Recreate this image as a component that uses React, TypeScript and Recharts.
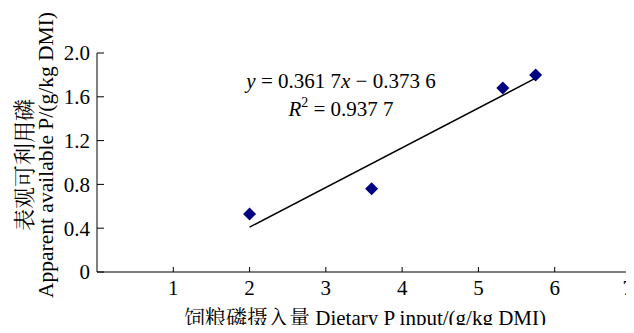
import { ComposedChart, Scatter, XAxis, YAxis } from 'recharts';

const observedX = [2.0, 3.6, 5.32, 5.75];
const observedY = [0.53, 0.76, 1.68, 1.8];
const trendX = [2.0, 5.75];
const trendY = [0.41, 1.77];
const xTicks = [1, 2, 3, 4, 5, 6, 7];
const yTicks = [0, 0.4, 0.8, 1.2, 1.6, 2.0];

const observed = observedX.map((x, i) => ({ x, y: observedY[i] }));
const trend = trendX.map((x, i) => ({ x, y: trendY[i] }));

const serif = "'Liberation Serif'";
const cjk = "'Noto Serif CJK SC'";

const Diamond = (props: any) => {
  const { cx, cy } = props;
  const r = 6.5;
  return (
    <polygon
      points={`${cx},${cy - r} ${cx + r},${cy} ${cx},${cy + r} ${cx - r},${cy}`}
      fill="#000080"
    />
  );
};

// last label sits at the right edge, keep it inside the page
const XTick = (props: any) => {
  const { x, y, payload } = props;
  const atEdge = x + 6 > 634;
  return (
    <text
      x={atEdge ? 633 : x}
      y={y}
      dy={13}
      textAnchor={atEdge ? 'end' : 'middle'}
      fill="#000"
      fontSize={21}
      fontFamily={serif}
    >
      {payload.value}
    </text>
  );
};

export default function App() {
  return (
    <div style={{ position: 'relative', width: 634, height: 333, margin: -8, background: '#fff', fontFamily: serif }}>
      <style>{'.recharts-surface{overflow:visible}'}</style>
      <ComposedChart width={634} height={333} margin={{ top: 53, right: 3, bottom: 0, left: 0 }}>
        <XAxis
          type="number"
          dataKey="x"
          domain={[0, 7]}
          ticks={xTicks}
          interval={0}
          height={61}
          stroke="#000"
          tickSize={-5}
          tickMargin={15}
          tick={<XTick />}
        />
        <YAxis
          type="number"
          dataKey="y"
          domain={[0, 2]}
          ticks={yTicks}
          interval={0}
          width={97}
          stroke="#000"
          tickSize={-7}
          tickMargin={14}
          tickFormatter={(v: number) => (v === 0 ? '0' : v.toFixed(1))}
          tick={{ fill: '#000', fontSize: 21, fontFamily: serif }}
        />
        <Scatter
          data={trend}
          line={{ stroke: '#000', strokeWidth: 1.5 }}
          shape={() => null}
          isAnimationActive={false}
        />
        <Scatter data={observed} shape={<Diamond />} isAnimationActive={false} />
      </ComposedChart>

      <div style={{ position: 'absolute', left: 241, top: 67, width: 200, textAlign: 'center', fontSize: 21, lineHeight: '28px', whiteSpace: 'nowrap' }}>
        <i>y</i> = 0.361 7<i>x</i> − 0.373 6
        <br />
        <i>R</i>
        <sup style={{ fontSize: 14, verticalAlign: 'top', lineHeight: '16px' }}>2</sup> = 0.937 7
      </div>

      <div style={{ position: 'absolute', left: 365, top: 317, transform: 'translate(-50%, -50%)', fontSize: 21, lineHeight: '20px', whiteSpace: 'nowrap' }}>
        <span style={{ fontFamily: cjk }}>饲粮磷摄入量</span> Dietary P input/(g/kg DMI)
      </div>
      <div style={{ position: 'absolute', left: 22, top: 165, transform: 'translate(-50%, -50%) rotate(-90deg)', fontSize: 22, lineHeight: '23px', whiteSpace: 'nowrap', fontFamily: cjk }}>
        表观可利用磷
      </div>
      <div style={{ position: 'absolute', left: 46, top: 155, transform: 'translate(-50%, -50%) rotate(-90deg)', fontSize: 21.5, lineHeight: '23px', whiteSpace: 'nowrap' }}>
        Apparent available P/(g/kg DMI)
      </div>
    </div>
  );
}
